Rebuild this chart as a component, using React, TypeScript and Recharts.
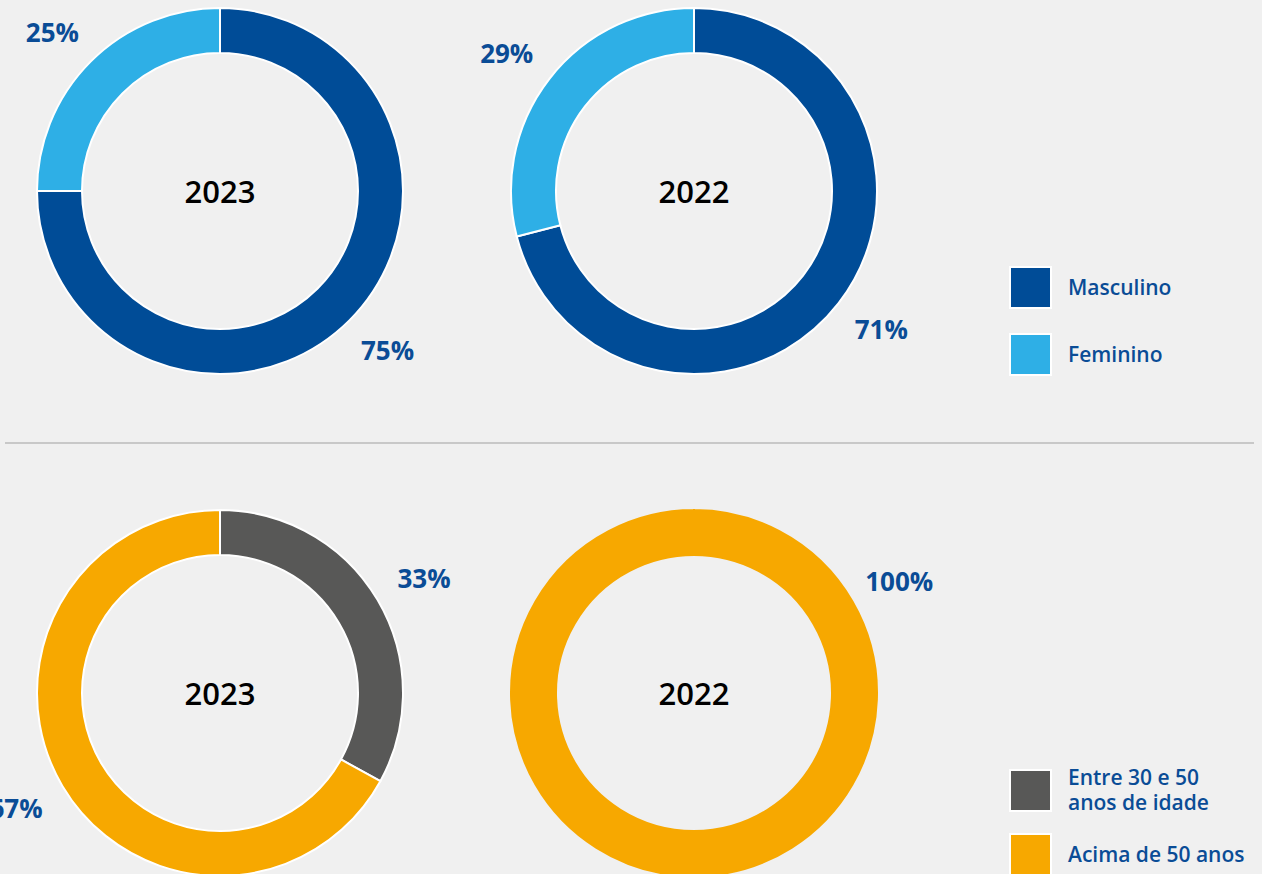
import React from 'react';
import { PieChart, Pie, Cell } from 'recharts';

const genderCategories = ['Masculino', 'Feminino'];
const gender2023 = [75, 25];
const gender2022 = [71, 29];
const ageCategories = ['Entre 30 e 50\nanos de idade', 'Acima de 50 anos'];
const age2023 = [33, 67];
const age2022 = [0, 100];
const yearLabels = ['2023', '2022'];

const genderColors = ['#004C97', '#2EAFE6'];
const ageColors = ['#585857', '#F7A800'];
const BLUE_TEXT = '#0A4C96';
const FONT = "'Open Sans', 'Noto Sans', sans-serif";

const W = 1262;
const H = 874;
const COLS = [220, 694];
const ROWS = [191, 693];
const OUTER = 183;
const INNER = 138;
const FULL_LABEL_ANGLE = 30;

const build = (cats: string[], vals: number[], colors: string[]) =>
  cats
    .map((name, i) => ({ name, value: vals[i], color: colors[i] }))
    .filter((d) => d.value > 0);

const RADIAN = Math.PI / 180;
const renderLabel = (props: any) => {
  const { cx, cy, midAngle, outerRadius, percent, value } = props;
  const ang = percent >= 0.9999 ? FULL_LABEL_ANGLE : midAngle;
  const cos = Math.cos(-ang * RADIAN);
  const sin = Math.sin(-ang * RADIAN);
  const x = cx + outerRadius * cos + 54 * cos;
  const y = cy + outerRadius * sin + 42 * sin;
  return (
    <text
      x={x}
      y={y}
      textAnchor="middle"
      dominantBaseline="central"
      fill={BLUE_TEXT}
      style={{ fontFamily: FONT, fontSize: 26, fontWeight: 700 }}
    >
      {`${value}%`}
    </text>
  );
};

const donuts = [
  { data: build(genderCategories, gender2023, genderColors), cx: COLS[0], cy: ROWS[0], year: yearLabels[0] },
  { data: build(genderCategories, gender2022, genderColors), cx: COLS[1], cy: ROWS[0], year: yearLabels[1] },
  { data: build(ageCategories, age2023, ageColors), cx: COLS[0], cy: ROWS[1], year: yearLabels[0] },
  { data: build(ageCategories, age2022, ageColors), cx: COLS[1], cy: ROWS[1], year: yearLabels[1] },
];

const LegendItem = ({ top, color, label }: { top: number; color: string; label: string }) => (
  <div style={{ position: 'absolute', left: 1009, top, display: 'flex', alignItems: 'center' }}>
    <div
      style={{
        width: 43,
        height: 43,
        boxSizing: 'border-box',
        border: '2px solid #ffffff',
        background: color,
        flex: 'none',
      }}
    />
    <div
      style={{
        marginLeft: 16,
        color: BLUE_TEXT,
        fontFamily: FONT,
        fontWeight: 600,
        fontSize: 21,
        lineHeight: '25px',
        whiteSpace: 'pre-line',
      }}
    >
      {label}
    </div>
  </div>
);

export default function App() {
  return (
    <div
      style={{
        position: 'fixed',
        left: 0,
        top: 0,
        width: W,
        height: H,
        background: '#F0F0F0',
        overflow: 'hidden',
      }}
    >
      <div style={{ position: 'absolute', left: 0, top: 0 }}>
        <PieChart width={W} height={H} margin={{ top: 0, right: 0, bottom: 0, left: 0 }}>
          {donuts.map((d, i) => (
            <Pie
              key={i}
              data={d.data}
              dataKey="value"
              nameKey="name"
              cx={d.cx}
              cy={d.cy}
              innerRadius={INNER}
              outerRadius={OUTER}
              startAngle={90}
              endAngle={-270}
              stroke="#ffffff"
              strokeWidth={2}
              label={renderLabel}
              labelLine={false}
              isAnimationActive={false}
            >
              {d.data.map((e, j) => (
                <Cell key={j} fill={e.color} stroke={d.data.length > 1 ? '#ffffff' : e.color} />
              ))}
            </Pie>
          ))}
        </PieChart>
      </div>
      {donuts.map((d, i) => (
        <div
          key={'c' + i}
          style={{
            position: 'absolute',
            left: d.cx - 80,
            top: d.cy - 22,
            width: 160,
            height: 44,
            lineHeight: '44px',
            textAlign: 'center',
            fontFamily: FONT,
            fontWeight: 600,
            fontSize: 31,
            color: '#000000',
          }}
        >
          {d.year}
        </div>
      ))}
      <div style={{ position: 'absolute', left: 5, top: 442, width: 1249, height: 2, background: '#C8C8C8' }} />
      <LegendItem top={266} color={genderColors[0]} label={genderCategories[0]} />
      <LegendItem top={333} color={genderColors[1]} label={genderCategories[1]} />
      <LegendItem top={765} color={ageColors[0]} label={ageCategories[0]} />
      <LegendItem top={833} color={ageColors[1]} label={ageCategories[1]} />
    </div>
  );
}
